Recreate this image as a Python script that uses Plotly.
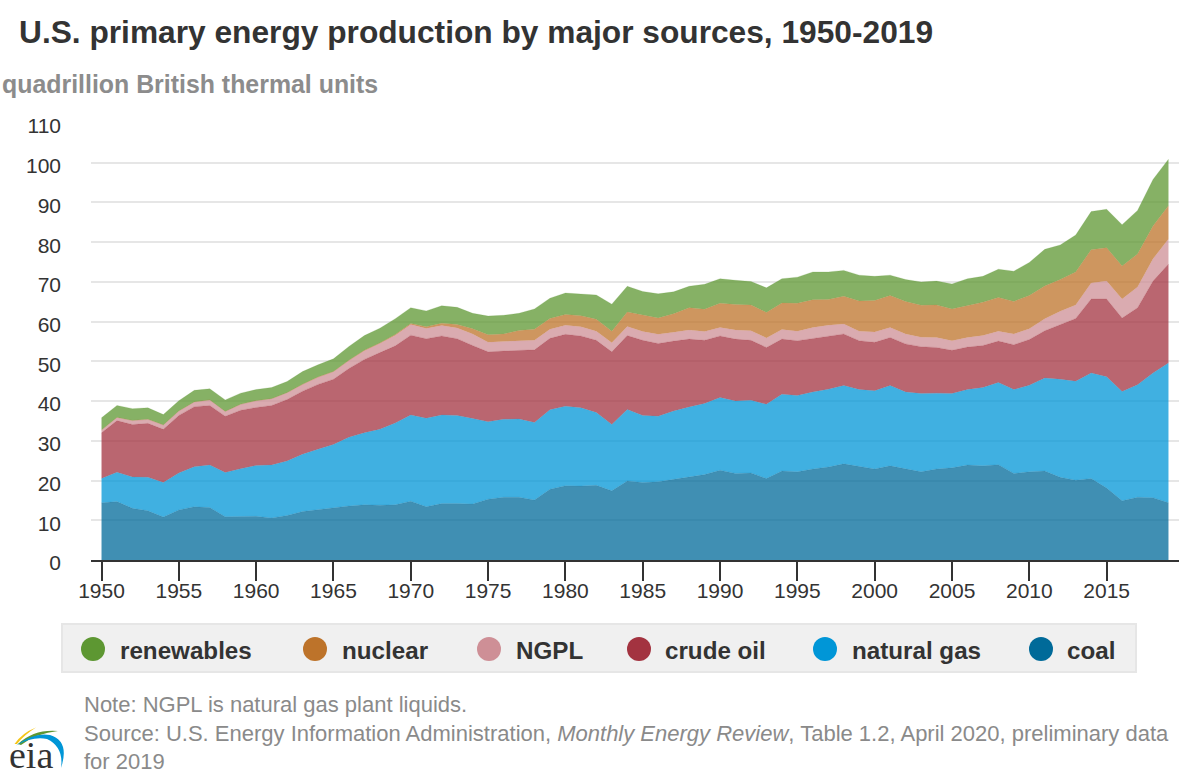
import plotly.graph_objects as go

years = list(range(1950, 2020))

coal = [14.4,14.7,13.0,12.4,10.8,12.6,13.4,13.2,10.9,10.9,
        11.0,10.6,11.2,12.2,12.7,13.2,13.6,13.9,13.8,13.9,
        14.8,13.4,14.2,14.2,14.1,15.3,15.8,15.8,15.1,17.8,
        18.7,18.6,18.8,17.4,19.9,19.5,19.7,20.3,20.9,21.5,
        22.6,21.8,21.9,20.5,22.4,22.2,22.9,23.4,24.2,23.5,
        22.9,23.7,22.9,22.2,22.9,23.2,23.9,23.7,24.0,21.8,
        22.2,22.4,20.8,20.1,20.5,18.1,14.9,15.8,15.7,14.4]
natural_gas = [6.1,7.4,7.9,8.4,8.7,9.3,10.1,10.7,11.1,12.1,
               12.8,13.3,13.7,14.4,15.2,15.9,17.3,18.1,19.1,20.6,
               21.7,22.3,22.3,22.2,21.5,19.5,19.6,19.7,19.5,20.0,
               20.0,19.7,18.3,16.7,18.0,16.9,16.5,17.2,17.6,17.9,
               18.3,18.2,18.3,18.7,19.3,19.2,19.4,19.6,19.7,19.4,
               19.7,20.2,19.4,19.7,19.1,18.7,19.0,19.7,20.7,21.1,
               21.8,23.4,24.7,24.9,26.6,28.0,27.5,28.3,31.4,35.2]
crude_oil = [11.5,13.0,13.2,13.6,13.4,14.5,15.1,15.0,14.2,14.7,
             14.6,15.0,15.5,15.9,16.3,16.4,17.3,18.5,19.3,19.4,
             20.1,20.0,19.9,19.3,18.4,17.6,17.2,17.3,18.3,18.0,
             18.1,18.1,18.2,18.3,18.6,18.9,18.3,17.6,17.1,15.9,
             15.5,15.6,15.1,14.3,13.9,13.8,13.5,13.4,13.0,12.3,
             12.2,12.1,12.1,11.8,11.5,10.9,10.7,10.6,10.4,11.3,
             11.5,11.9,13.8,15.8,18.6,19.6,18.5,19.4,23.1,24.9]
ngpl = [0.7,0.8,1.0,1.0,1.1,1.1,1.2,1.4,1.2,1.5,
        1.7,1.7,1.7,1.7,1.8,1.9,2.0,2.2,2.3,2.7,
        2.7,2.6,2.6,2.7,2.9,2.4,2.4,2.4,2.4,2.3,
        2.3,2.3,2.3,2.3,2.3,2.2,2.3,2.2,2.3,2.2,
        2.1,2.3,2.4,2.4,2.4,2.4,2.7,2.7,2.5,2.4,
        2.6,2.5,2.5,2.4,2.5,2.4,2.4,2.5,2.5,2.7,
        2.7,3.0,3.3,3.4,4.0,4.5,4.8,5.2,5.6,6.3]
nuclear = [0,0,0,0,0,0,0,0,0,0,
           0,0.02,0.03,0.03,0.04,0.04,0.06,0.09,0.14,0.15,
           0.2,0.4,0.6,0.9,1.3,1.9,1.9,2.6,2.8,2.7,
           2.7,2.8,3.0,2.9,3.6,4.1,4.1,4.7,5.6,5.6,
           6.1,6.4,6.5,6.4,6.7,7.0,7.0,6.5,7.0,7.6,
           7.9,8.1,8.2,8.0,8.2,8.0,8.1,8.4,8.5,8.2,
           8.4,8.3,8.0,8.3,8.4,8.4,8.3,8.3,8.3,8.4]
renewables = [3.1,3.0,3.0,2.9,2.6,2.6,2.9,2.8,2.9,2.8,
              2.8,2.8,2.8,3.2,3.1,3.2,3.5,3.7,3.7,4.0,
              4.0,4.0,4.4,4.3,3.9,4.7,4.7,4.3,5.1,5.1,
              5.4,5.5,6.1,6.8,6.5,6.0,6.1,5.5,5.4,6.3,
              6.2,6.1,5.9,6.2,6.1,6.6,7.0,6.9,6.5,6.5,
              6.1,5.1,5.5,5.9,6.0,6.3,6.7,6.5,7.1,7.6,
              8.3,9.2,8.7,9.3,9.6,9.7,10.4,11.0,11.7,11.7]

series_names = ["coal", "natural gas", "crude oil", "NGPL", "nuclear", "renewables"]
series_values = [coal, natural_gas, crude_oil, ngpl, nuclear, renewables]
series_colors = ["#006A99", "#0096D7", "#A33340", "#CE8F96", "#BD732A", "#5D9732"]
series_rgb = ["0,106,153", "0,150,215", "163,51,64", "206,143,150", "189,115,42", "93,151,50"]

legend_order = ["renewables", "nuclear", "NGPL", "crude oil", "natural gas", "coal"]
x_ticks = list(range(1950, 2020, 5))
y_ticks = list(range(0, 111, 10))

W, H = 1196, 778
L, R, T, B = 91, 1179, 123, 560


def px(x):
    return (x - L) / (R - L)


def py(y):
    return (B - y) / (B - T)


fig = go.Figure()
for name, vals, rgb in zip(series_names, series_values, series_rgb):
    fig.add_trace(go.Scatter(
        x=years, y=vals, name=name, mode="lines", stackgroup="one",
        line=dict(width=0.5, color=f"rgba({rgb},0.35)"),
        fillcolor=f"rgba({rgb},0.75)", showlegend=False,
    ))

shapes = [dict(type="rect", xref="paper", yref="paper", x0=px(62), x1=px(1136),
               y0=py(624), y1=py(672), fillcolor="#F0F0F0",
               line=dict(color="#E6E6E6", width=2), layer="below")]
ann = []


def text(x, y, s, size, color, bold=False, family="Liberation Sans", xanchor="left"):
    ann.append(dict(xref="paper", yref="paper", x=px(x), y=py(y), text=f"<b>{s}</b>" if bold else s,
                    showarrow=False, xanchor=xanchor, yanchor="middle", align="left",
                    font=dict(family=family, size=size, color=color),
                    borderpad=0, borderwidth=0))


text(19, 32, "U.S. primary energy production by major sources, 1950-2019", 31.7, "#333333", True)
text(2, 84, "quadrillion British thermal units", 24.9, "#8C8C8C", True)

legend_circle_x = [93, 315, 489, 639, 825, 1041]
legend_text_x = [120, 342, 516, 665, 852, 1067]
color_of = dict(zip(series_names, series_colors))
for name, cx, tx in zip(legend_order, legend_circle_x, legend_text_x):
    shapes.append(dict(type="circle", xref="paper", yref="paper",
                       x0=px(cx - 12), x1=px(cx + 12), y0=py(661), y1=py(637),
                       fillcolor=color_of[name], line=dict(width=0)))
    text(tx, 650, name, 24.2, "#333333", True)

text(84, 704, "Note: NGPL is natural gas plant liquids.", 22, "#8A8A8A")
text(84, 733, "Source: U.S. Energy Information Administration, <i>Monthly Energy Review</i>, "
              "Table 1.2, April 2020, preliminary data", 22, "#8A8A8A")
text(84, 761, "for 2019", 22, "#8A8A8A")

text(8.5, 755, "eia", 38, "#333333", family="Liberation Serif")


def path(points):
    out = []
    for cmd, coords in points:
        pts = " ".join(f"{px(a):.5f},{py(b):.5f}" for a, b in coords)
        out.append(f"{cmd} {pts}")
    return " ".join(out) + " Z"


logo = [
    ("#F5C518", [("M", [(14.5, 744)]), ("Q", [(22, 733), (36, 727.5)]), ("Q", [(24, 735), (17, 744)])]),
    ("#5D9732", [("M", [(18, 744)]), ("Q", [(34, 729), (58, 731)]), ("Q", [(37, 733), (21, 745)])]),
    ("#0096D7", [("M", [(16, 745.5)]), ("Q", [(34, 732), (50, 735)]), ("Q", [(70, 741), (61, 768)]),
                 ("Q", [(64, 747), (47, 739)]), ("Q", [(33, 736), (16, 745.5)])]),
]
for color, pts in logo:
    shapes.append(dict(type="path", xref="paper", yref="paper", path=path(pts),
                       fillcolor=color, line=dict(width=0)))

fig.update_layout(
    width=W, height=H, autosize=False,
    margin=dict(l=L, r=W - R, t=T, b=H - B, pad=0),
    paper_bgcolor="white", plot_bgcolor="white",
    showlegend=False, hovermode=False,
    font=dict(family="Liberation Sans", color="#333333"),
    shapes=shapes, annotations=ann,
    xaxis=dict(range=[1949.32, 2019.68], tickvals=x_ticks, ticks="outside", ticklen=19,
               tickwidth=2, tickcolor="#333333", showgrid=False, showline=True,
               linecolor="#333333", linewidth=2, zeroline=False,
               ticklabelstandoff=-8,
               tickfont=dict(size=21, color="#333333"), tickangle=0),
    yaxis=dict(range=[0, 110], tickvals=y_ticks, showgrid=True, gridcolor="#E6E6E6",
               gridwidth=2, zeroline=False, showline=False, ticks="",
               ticklabelstandoff=29, ticklabelshift=3,
               tickfont=dict(size=21, color="#333333")),
)

fig.write_html("out.html", config=dict(displayModeBar=False),
               post_script="document.body.style.margin='0';document.body.style.overflow='hidden';")
